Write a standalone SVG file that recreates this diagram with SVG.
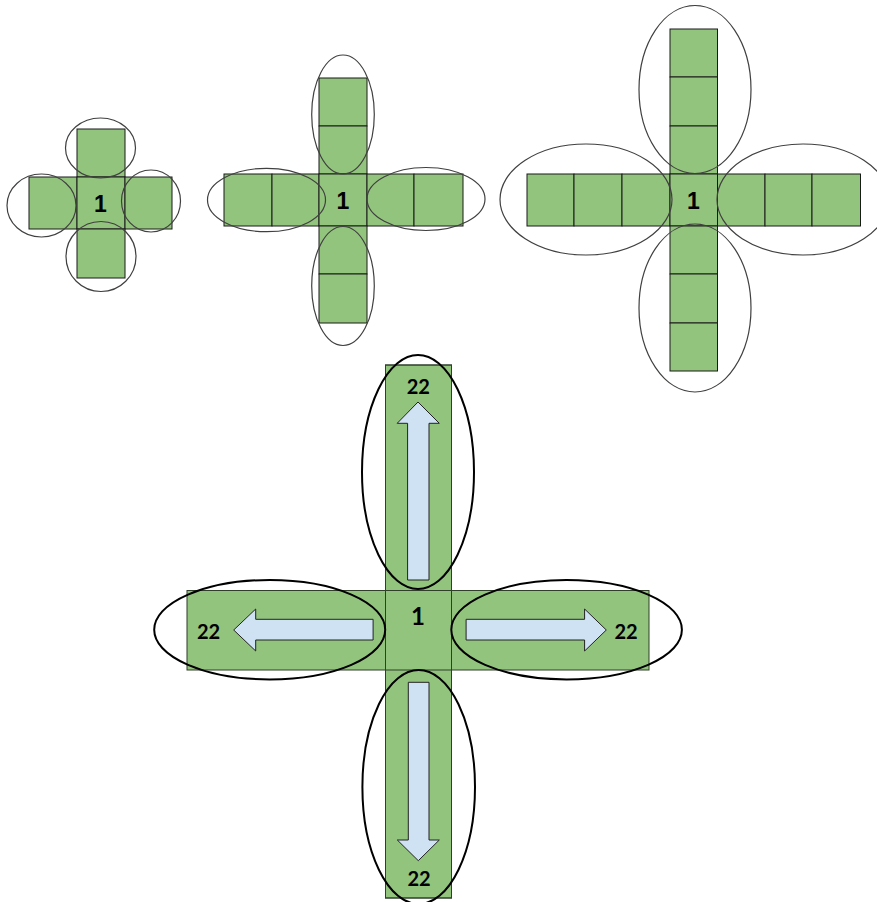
<svg xmlns="http://www.w3.org/2000/svg" width="877" height="902" viewBox="0 0 877 902">
<style>
.sq{fill:#93c47d;stroke:#1a1a1a;stroke-width:1}
.sq2{fill:#93c47d;stroke:#2f3f2a;stroke-width:1}
.ol{fill:none;stroke:#2f3f2a;stroke-width:1}
.el{fill:none;stroke:#404040;stroke-width:1.2}
.el2{fill:none;stroke:#000;stroke-width:2}
.ar{fill:#cfe2f3;stroke:#222;stroke-width:1}
.t1{font-family:"Liberation Sans",Arial,sans-serif;font-weight:bold;font-size:23px;fill:#000;text-anchor:middle}
.t2{font-family:Lato,"Open Sans",sans-serif;font-weight:bold;font-size:20px;fill:#000;text-anchor:middle}
.t3{font-family:Lato,"Open Sans",sans-serif;font-weight:bold;font-size:24px;fill:#000;text-anchor:middle}
</style>
<rect width="877" height="902" fill="#fff"/>
<g id="cross1">
<rect class="sq" x="77" y="129" width="48" height="48"/>
<rect class="sq" x="29" y="177" width="48" height="52"/>
<rect class="sq" x="77" y="177" width="48" height="52"/>
<rect class="sq" x="125" y="177" width="47" height="52"/>
<rect class="sq" x="77" y="229" width="48" height="49"/>
<ellipse class="el" cx="100.5" cy="148" rx="35" ry="30"/>
<ellipse class="el" cx="41.5" cy="205.5" rx="34.5" ry="31.5"/>
<ellipse class="el" cx="151" cy="201" rx="29.5" ry="31"/>
<ellipse class="el" cx="101" cy="256.5" rx="35" ry="35"/>
<text class="t1" x="100.5" y="212">1</text>
</g>
<g id="cross2">
<rect class="sq" x="319" y="78" width="48" height="48"/>
<rect class="sq" x="319" y="126" width="48" height="48"/>
<rect class="sq" x="224" y="174" width="48" height="52"/>
<rect class="sq" x="272" y="174" width="47" height="52"/>
<rect class="sq" x="319" y="174" width="48" height="52"/>
<rect class="sq" x="367" y="174" width="47" height="52"/>
<rect class="sq" x="414" y="174" width="49" height="52"/>
<rect class="sq" x="319" y="226" width="48" height="48"/>
<rect class="sq" x="319" y="274" width="48" height="49"/>
<ellipse class="el" cx="343" cy="114.5" rx="31.3" ry="59.5"/>
<ellipse class="el" cx="266.5" cy="200" rx="59" ry="31.7"/>
<ellipse class="el" cx="426" cy="199" rx="59" ry="31.5"/>
<ellipse class="el" cx="343" cy="286" rx="31.3" ry="59.5"/>
<text class="t1" x="343" y="209">1</text>
</g>
<g id="cross3">
<rect class="sq" x="670" y="29" width="47.5" height="48"/>
<rect class="sq" x="670" y="77" width="47.5" height="49"/>
<rect class="sq" x="670" y="126" width="47.5" height="48"/>
<rect class="sq" x="527" y="174" width="47" height="52"/>
<rect class="sq" x="574" y="174" width="48" height="52"/>
<rect class="sq" x="622" y="174" width="48" height="52"/>
<rect class="sq" x="670" y="174" width="47.5" height="52"/>
<rect class="sq" x="717.5" y="174" width="47.5" height="52"/>
<rect class="sq" x="765" y="174" width="47" height="52"/>
<rect class="sq" x="812" y="174" width="48.5" height="52"/>
<rect class="sq" x="670" y="226" width="47.5" height="48"/>
<rect class="sq" x="670" y="274" width="47.5" height="49"/>
<rect class="sq" x="670" y="323" width="47.5" height="48"/>
<ellipse class="el" cx="695" cy="89.5" rx="56" ry="84"/>
<ellipse class="el" cx="586" cy="199.5" rx="86" ry="55.5"/>
<ellipse class="el" cx="803" cy="199.5" rx="86" ry="55.5"/>
<ellipse class="el" cx="695" cy="308" rx="56" ry="84"/>
<text class="t1" x="693.5" y="209">1</text>
</g>
<g id="cross4">
<rect class="sq2" x="385.5" y="365" width="66" height="533"/>
<rect class="sq2" x="187" y="590.5" width="462" height="79.5"/>
<rect class="ol" x="385.5" y="365" width="66" height="533"/>
<text class="t3" x="418" y="625">1</text>
</g>
<g id="arrows">
<polygon class="ar" points="418,402 439.3,423.3 429,423.3 429,580 407.6,580 407.6,423.3 397.2,423.3"/>
<polygon class="ar" points="418.3,860.7 439.3,840 429,840 429,682.3 408.3,682.3 408.3,840 397.3,840"/>
<polygon class="ar" points="233.7,630 255.7,609 255.7,619.3 373.1,619.3 373.1,640 255.7,640 255.7,651"/>
<polygon class="ar" points="606.3,630 584.6,609 584.6,619.3 466.1,619.3 466.1,640 584.6,640 584.6,651"/>
</g>
<g id="labels">
<text class="t2" x="418.3" y="394">22</text>
<text class="t2" x="208.5" y="638.5">22</text>
<text class="t2" x="626" y="638.5">22</text>
<text class="t2" x="419" y="885.5">22</text>
</g>
<g id="loops">
<ellipse class="el2" cx="418" cy="472" rx="56" ry="117"/>
<ellipse class="el2" cx="269.7" cy="629.7" rx="115.5" ry="49.7"/>
<ellipse class="el2" cx="566.6" cy="629.7" rx="115.3" ry="49.7"/>
<ellipse class="el2" cx="418.7" cy="787" rx="56.3" ry="117"/>
</g>
</svg>
